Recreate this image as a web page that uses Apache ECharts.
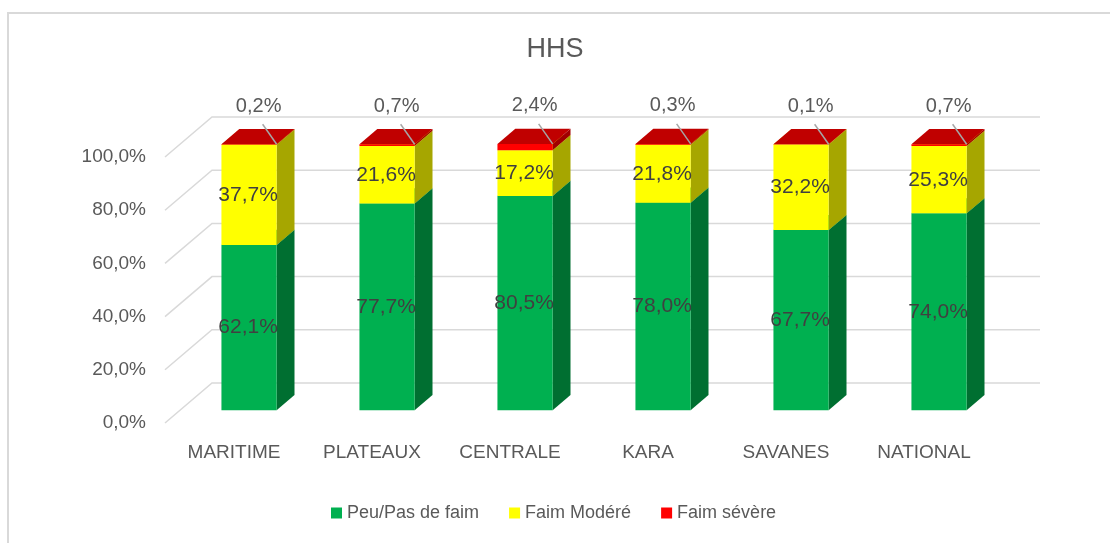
<!DOCTYPE html>
<html>
<head>
<meta charset="utf-8">
<script src="https://cdn.jsdelivr.net/npm/echarts@6/dist/echarts.min.js"></script>
<style>
  html, body { margin: 0; padding: 0; background: #fff; }
  #chart { width: 1110px; height: 543px; }
</style>
</head>
<body>
<div id="chart"></div>
<script>
var categories = ["MARITIME", "PLATEAUX", "CENTRALE", "KARA", "SAVANES", "NATIONAL"];
var peuPasFaim = [62.1, 77.7, 80.5, 78.0, 67.7, 74.0];
var faimModere = [37.7, 21.6, 17.2, 21.8, 32.2, 25.3];
var faimSevere = [0.2, 0.7, 2.4, 0.3, 0.1, 0.7];
var yTicks = [0, 20, 40, 60, 80, 100];

var font = "Liberation Sans";
var grey = "#595959";
var gridGrey = "#D9D9D9";

// oblique depth of the 3D box (full depth, front floor -> back wall)
var depthX = 47;
var depthY = -40;
var barFront = 0.32;   // depth where bar front faces sit
var barDepth = 0.38;   // depth of a bar

function pct(v) {
  return v.toFixed(1).replace(".", ",") + "%";
}

// walls: side diagonal + back wall line for every tick
function renderWall(params, api) {
  var v = api.value(1);
  var p = api.coord([0, v]);
  var band = api.size([1, 0])[0];
  var left = p[0] - band / 2;
  var right = left + band * categories.length;
  return {
    type: "polyline",
    shape: {
      points: [
        [left, p[1]],
        [left + depthX, p[1] + depthY],
        [right + depthX, p[1] + depthY]
      ]
    },
    style: { stroke: gridGrey, lineWidth: 1.5, fill: null },
    silent: true
  };
}

function makeRender(front, side, top, withLabel, leader) {
  return function(params, api) {
    var i = api.value(0);
    var val = api.value(1);
    var base = api.value(2);
    var band = api.size([1, 0])[0];
    var w = band * 0.4;
    var pTop = api.coord([i, base + val]);
    var pBot = api.coord([i, base]);
    var ox = depthX * barFront, oy = depthY * barFront;
    var bx = depthX * barDepth, by = depthY * barDepth;
    var cx = pTop[0] + ox;
    var x0 = cx - w / 2, x1 = cx + w / 2;
    var yt = pTop[1] + oy, yb = pBot[1] + oy;
    var children = [
      {
        type: "polygon",
        shape: { points: [[x1, yt], [x1 + bx, yt + by], [x1 + bx, yb + by], [x1, yb]] },
        style: { fill: side }
      },
      {
        type: "polygon",
        shape: { points: [[x0, yt], [x0 + bx, yt + by], [x1 + bx, yt + by], [x1, yt]] },
        style: { fill: top }
      },
      {
        type: "rect",
        shape: { x: x0, y: yt, width: w, height: yb - yt },
        style: { fill: front }
      }
    ];
    if (withLabel) {
      children.push({
        type: "text",
        style: {
          text: pct(val), x: cx - 1, y: (yt + yb) / 2,
          textAlign: "center", textVerticalAlign: "middle",
          fill: "#404040", font: "21px '" + font + "'"
        }
      });
    }
    if (leader) {
      children.push({
        type: "line",
        shape: { x1: x1, y1: yt, x2: x1 - 14, y2: yt - 20 },
        style: { stroke: "#A6A6A6", lineWidth: 1.5 }
      });
      children.push({
        type: "text",
        style: {
          text: pct(val), x: x1 - 18, y: yt - 38,
          textAlign: "center", textVerticalAlign: "middle",
          fill: grey, font: "20px '" + font + "'"
        }
      });
    }
    return { type: "group", children: children };
  };
}

var greenData = [], yellowData = [], redData = [];
for (var i = 0; i < categories.length; i++) {
  greenData.push([i, peuPasFaim[i], 0]);
  yellowData.push([i, faimModere[i], peuPasFaim[i]]);
  redData.push([i, faimSevere[i], peuPasFaim[i] + faimModere[i]]);
}

var chart = echarts.init(document.getElementById("chart"));
var option = {
  animation: false,
  title: {
    text: "HHS",
    left: "center",
    top: 31,
    textStyle: { fontFamily: font, fontSize: 27, fontWeight: "normal", color: grey }
  },
  legend: {
    top: 499,
    left: 326,
    itemWidth: 11,
    itemHeight: 11,
    itemGap: 30,
    icon: "rect",
    textStyle: { fontFamily: font, fontSize: 18, color: grey },
    data: ["Peu/Pas de faim", "Faim Modéré", "Faim sévère"]
  },
  grid: { left: 165, top: 157, width: 828, height: 266 },
  xAxis: {
    type: "category",
    data: categories,
    axisLine: { show: false },
    axisTick: { show: false },
    axisLabel: { margin: 20, fontFamily: font, fontSize: 19, color: grey }
  },
  yAxis: {
    type: "value",
    min: 0,
    max: 100,
    interval: 20,
    axisLine: { show: false },
    axisTick: { show: false },
    splitLine: { show: false },
    axisLabel: { margin: 19, fontFamily: font, fontSize: 19, color: grey, formatter: pct }
  },
  graphic: [
    {
      type: "rect",
      shape: { x: 8, y: 13, width: 1200, height: 600 },
      style: { fill: null, stroke: gridGrey, lineWidth: 2 },
      silent: true,
      z: -10
    }
  ],
  series: [
    {
      type: "custom",
      name: "walls",
      renderItem: renderWall,
      data: yTicks.map(function(v) { return [0, v]; }),
      z: 1,
      silent: true
    },
    {
      type: "custom",
      name: "Peu/Pas de faim",
      itemStyle: { color: "#00B050" },
      renderItem: makeRender("#00B050", "#006F31", "#00A048", true, false),
      data: greenData,
      z: 2
    },
    {
      type: "custom",
      name: "Faim Modéré",
      itemStyle: { color: "#FFFF00" },
      renderItem: makeRender("#FFFF00", "#A6A600", "#E0E000", true, false),
      data: yellowData,
      z: 2
    },
    {
      type: "custom",
      name: "Faim sévère",
      itemStyle: { color: "#FF0000" },
      renderItem: makeRender("#FF0000", "#A00000", "#C00000", false, true),
      data: redData,
      z: 3
    }
  ]
};
chart.setOption(option);
</script>
</body>
</html>
